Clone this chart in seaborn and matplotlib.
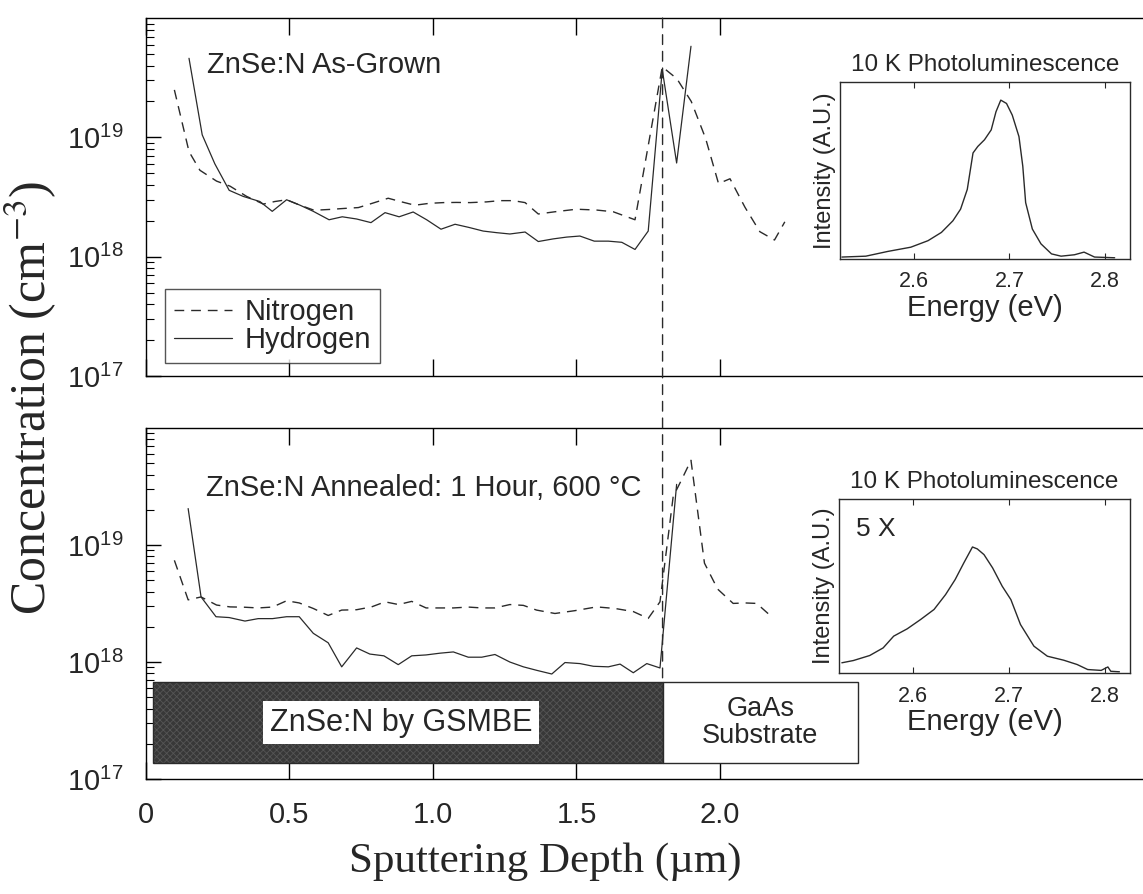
import numpy as np
import pandas as pd
import matplotlib
matplotlib.use("Agg")
import matplotlib.pyplot as plt
import seaborn as sns
from matplotlib.patches import Rectangle, ConnectionPatch
from matplotlib.ticker import FixedLocator, LogLocator, NullFormatter, FixedFormatter

# ---------------- data ----------------
top_h_depth = [0.150, 0.196, 0.240, 0.290, 0.339, 0.397, 0.440, 0.490, 0.537, 0.583,
               0.638, 0.684, 0.734, 0.784, 0.833, 0.882, 0.931, 0.978, 1.028, 1.077,
               1.125, 1.175, 1.222, 1.268, 1.321, 1.367, 1.419, 1.466, 1.512, 1.562,
               1.611, 1.658, 1.704, 1.750, 1.799, 1.849, 1.899]
top_h_conc = [46, 10.5, 6.0, 3.6, 3.2, 2.9, 2.4, 3.0, 2.7, 2.4,
              2.04, 2.16, 2.07, 1.93, 2.34, 2.16, 2.37, 2.04, 1.70, 1.87,
              1.76, 1.64, 1.59, 1.55, 1.61, 1.34, 1.41, 1.46, 1.49, 1.35,
              1.35, 1.32, 1.15, 1.64, 37, 6.1, 58]  # x 1e18 cm^-3

top_n_depth = [0.099, 0.150, 0.188, 0.246, 0.293, 0.351, 0.409, 0.449, 0.490, 0.537,
               0.586, 0.641, 0.693, 0.740, 0.788, 0.844, 0.891, 0.937, 0.987, 1.036,
               1.082, 1.130, 1.187, 1.233, 1.280, 1.321, 1.367, 1.425, 1.500, 1.570,
               1.628, 1.704, 1.799, 1.850, 1.900, 1.950, 1.995, 2.035, 2.087, 2.139,
               2.190, 2.226]
top_n_conc = [25, 7.6, 5.3, 4.3, 3.9, 3.2, 2.76, 2.9, 3.0, 2.7,
              2.45, 2.49, 2.54, 2.58, 2.8, 3.09, 2.88, 2.7, 2.8, 2.84,
              2.85, 2.84, 2.88, 2.95, 2.95, 2.84, 2.28, 2.38, 2.5, 2.46,
              2.38, 2.04, 39, 31, 20, 9.8, 4.1, 4.5, 2.6, 1.62,
              1.38, 1.96]

bot_h_depth = [0.147, 0.192, 0.244, 0.290, 0.345, 0.391, 0.441, 0.490, 0.534, 0.583,
               0.635, 0.682, 0.734, 0.780, 0.829, 0.879, 0.926, 0.976, 1.024, 1.071,
               1.123, 1.170, 1.216, 1.268, 1.315, 1.361, 1.414, 1.460, 1.512, 1.559,
               1.611, 1.652, 1.698, 1.745, 1.791, 1.849]
bot_h_conc = [20.5, 3.6, 2.44, 2.4, 2.24, 2.35, 2.35, 2.44, 2.44, 1.76,
              1.46, 0.91, 1.32, 1.17, 1.13, 0.95, 1.13, 1.15, 1.19, 1.22,
              1.10, 1.10, 1.16, 1.0, 0.91, 0.85, 0.79, 0.99, 0.97, 0.92,
              0.91, 0.96, 0.81, 0.97, 0.89, 33]

bot_n_depth = [0.099, 0.147, 0.192, 0.246, 0.293, 0.345, 0.391, 0.441, 0.490, 0.534,
               0.583, 0.635, 0.682, 0.734, 0.786, 0.833, 0.880, 0.926, 0.976, 1.024,
               1.071, 1.123, 1.170, 1.216, 1.268, 1.315, 1.361, 1.425, 1.495, 1.570,
               1.634, 1.698, 1.750, 1.791, 1.837, 1.866, 1.899, 1.946, 1.992, 2.046,
               2.087, 2.128, 2.180]
bot_n_conc = [7.4, 3.4, 3.6, 3.07, 2.96, 2.94, 2.9, 2.95, 3.34, 3.2,
              2.87, 2.5, 2.78, 2.8, 2.96, 3.27, 3.1, 3.3, 2.9, 2.9,
              2.9, 2.95, 2.9, 2.9, 3.1, 3.05, 2.78, 2.6, 2.75, 2.96,
              2.87, 2.7, 2.36, 3.27, 26, 36, 53, 7.0, 4.2, 3.17,
              3.2, 3.17, 2.44]

pl1_energy = [2.525, 2.550, 2.573, 2.597, 2.615, 2.629, 2.641, 2.649, 2.656, 2.662,
              2.667, 2.674, 2.681, 2.686, 2.691, 2.697, 2.703, 2.710, 2.714, 2.717,
              2.724, 2.733, 2.744, 2.754, 2.768, 2.778, 2.789, 2.810]
pl1_int = [0.006, 0.011, 0.038, 0.062, 0.099, 0.146, 0.212, 0.278, 0.39, 0.597,
           0.634, 0.672, 0.728, 0.831, 0.897, 0.878, 0.812, 0.690, 0.522, 0.315,
           0.165, 0.081, 0.024, 0.011, 0.019, 0.034, 0.006, 0.002]

pl2_energy = [2.526, 2.538, 2.555, 2.569, 2.580, 2.594, 2.608, 2.622, 2.634, 2.644,
              2.653, 2.662, 2.667, 2.674, 2.683, 2.693, 2.702, 2.712, 2.726, 2.740,
              2.757, 2.771, 2.782, 2.796, 2.803, 2.806, 2.815]
pl2_int = [0.054, 0.067, 0.096, 0.140, 0.208, 0.25, 0.304, 0.362, 0.448, 0.535,
           0.631, 0.723, 0.712, 0.679, 0.602, 0.496, 0.419, 0.275, 0.150, 0.092,
           0.069, 0.044, 0.015, 0.010, 0.030, 0.005, 0.002]

x_ticks = [0, 0.5, 1.0, 1.5, 2.0]
x_ticklabels = ["0", "0.5", "1.0", "1.5", "2.0"]
y_major = [1e17, 1e18, 1e19]
y_ticklabels = ["$10^{17}$", "$10^{18}$", "$10^{19}$"]
pl_ticks = [2.6, 2.7, 2.8]
interface_depth = 1.8
layer_edges = [0.024, 1.8, 2.48]
layer_bottom, layer_top = 1.37e17, 6.7e17
CONC_SCALE = 1e18

# ---------------- style ----------------
sns.set_style("white")
plt.rcParams["font.family"] = ["Liberation Sans", "DejaVu Sans"]
plt.rcParams["mathtext.fontset"] = "custom"
plt.rcParams["mathtext.rm"] = "Liberation Sans"
plt.rcParams["mathtext.it"] = "Liberation Sans:italic"
plt.rcParams["mathtext.bf"] = "Liberation Sans:bold"
plt.rcParams["hatch.linewidth"] = 0.6

INK = "#2a2a2a"
DASH = (0, (7, 5))

fig = plt.figure(figsize=(11.43, 8.94), dpi=100)
ax_top = fig.add_axes([0.1277, 0.5794, 0.8723, 0.4004])
ax_bot = fig.add_axes([0.1277, 0.1286, 0.8723, 0.3926])


def draw_profile(ax, nd, nc, hd, hc):
    dfn = pd.DataFrame({"depth": nd, "conc": np.array(nc) * CONC_SCALE})
    dfh = pd.DataFrame({"depth": hd, "conc": np.array(hc) * CONC_SCALE})
    sns.lineplot(data=dfn, x="depth", y="conc", ax=ax, color=INK, lw=1.0,
                 linestyle=DASH, estimator=None, sort=False, label="Nitrogen")
    sns.lineplot(data=dfh, x="depth", y="conc", ax=ax, color=INK, lw=0.9,
                 estimator=None, sort=False, label="Hydrogen")
    ax.set_yscale("log")
    ax.set_ylim(1e17, 1e20)
    ax.set_xlim(0, 3.474)
    ax.set_xlabel("")
    ax.set_ylabel("")
    for s in ["top", "left", "bottom"]:
        ax.spines[s].set_visible(True)
        ax.spines[s].set_color("black")
        ax.spines[s].set_linewidth(1.0)
    ax.spines["right"].set_visible(False)
    ax.xaxis.set_major_locator(FixedLocator(x_ticks))
    ax.xaxis.set_major_formatter(FixedFormatter(x_ticklabels))
    ax.yaxis.set_major_locator(FixedLocator(y_major))
    ax.yaxis.set_major_formatter(FixedFormatter(y_ticklabels))
    ax.yaxis.set_minor_locator(LogLocator(base=10, subs=np.arange(2, 10)))
    ax.yaxis.set_minor_formatter(NullFormatter())
    ax.tick_params(axis="x", which="major", direction="in", top=True, bottom=True,
                   length=12, width=1, labelsize=21, pad=16, color="black")
    ax.tick_params(axis="y", which="major", direction="in", left=True, right=False,
                   length=11, width=1, labelsize=21, pad=16, color="black")
    ax.tick_params(axis="y", which="minor", direction="in", left=True, right=False,
                   length=6, width=0.8, color="black")


draw_profile(ax_top, top_n_depth, top_n_conc, top_h_depth, top_h_conc)
draw_profile(ax_bot, bot_n_depth, bot_n_conc, bot_h_depth, bot_h_conc)
ax_top.tick_params(axis="x", labelbottom=False)
ax_bot.legend_.remove()

leg = ax_top.legend(loc="lower left", bbox_to_anchor=(0.019, 0.036), borderaxespad=0,
                    fontsize=21, handlelength=2.0, handletextpad=0.45, labelspacing=0.02,
                    frameon=True, fancybox=False, edgecolor=INK, borderpad=0.3)
leg.get_frame().set_linewidth(1.0)

ax_top.text(0.2125, 4.05e19, "ZnSe:N As-Grown", fontsize=21, va="center", ha="left")
ax_bot.text(0.209, 3.1e19, "ZnSe:N Annealed: 1 Hour, 600 \u00b0C", fontsize=21,
            va="center", ha="left")

# layer boxes
ax_bot.add_patch(Rectangle((layer_edges[0], layer_bottom), layer_edges[1] - layer_edges[0],
                           layer_top - layer_bottom, facecolor="#383838", edgecolor="#555555",
                           hatch="xxxxx", lw=0, zorder=3))
ax_bot.add_patch(Rectangle((layer_edges[0], layer_bottom), layer_edges[1] - layer_edges[0],
                           layer_top - layer_bottom, facecolor="none", edgecolor=INK,
                           lw=1.0, zorder=3))
ax_bot.add_patch(Rectangle((layer_edges[1], layer_bottom), layer_edges[2] - layer_edges[1],
                           layer_top - layer_bottom, facecolor="white", edgecolor=INK,
                           lw=1.0, zorder=3))
ax_bot.text(0.889, np.sqrt(layer_bottom * layer_top), "ZnSe:N by GSMBE", fontsize=22,
            ha="center", va="center", zorder=5,
            bbox=dict(boxstyle="square,pad=0.22", facecolor="white", edgecolor="none"))
ax_bot.text((layer_edges[1] + layer_edges[2]) / 2, np.sqrt(layer_bottom * layer_top),
            "GaAs\nSubstrate", fontsize=19.5, ha="center", va="center", linespacing=1.05,
            zorder=5)

# interface line through both panels
con = ConnectionPatch(xyA=(interface_depth, 1e20), coordsA=ax_top.transData,
                      xyB=(interface_depth, layer_top), coordsB=ax_bot.transData,
                      color=INK, lw=1.0, linestyle=(0, (7, 5)), zorder=6)
fig.add_artist(con)

# insets
def draw_inset(rect, e, inten, tag=None):
    ax = fig.add_axes(rect)
    df = pd.DataFrame({"energy": e, "intensity": inten})
    sns.lineplot(data=df, x="energy", y="intensity", ax=ax, color=INK, lw=1.0,
                 estimator=None, sort=False)
    ax.set_xlim(2.523, 2.826)
    ax.set_ylim(-0.005, 1.0)
    ax.set_yticks([])
    ax.set_xticks(pl_ticks)
    ax.set_xticklabels([f"{t:.1f}" for t in pl_ticks])
    ax.tick_params(axis="x", direction="in", top=True, bottom=True, length=4, width=0.8,
                   labelsize=15.5, pad=9)
    for s in ax.spines.values():
        s.set_visible(True)
        s.set_color(INK)
        s.set_linewidth(1.0)
    ax.set_xlabel("Energy (eV)", fontsize=21, labelpad=1)
    ax.set_ylabel("Intensity (A.U.)", fontsize=17, labelpad=3)
    ax.set_title("10 K Photoluminescence", fontsize=17.5, pad=8)
    if tag:
        ax.text(0.06, 0.83, tag, transform=ax.transAxes, fontsize=19, ha="left", va="center")
    return ax


draw_inset([0.7349, 0.7103, 0.2537, 0.198], pl1_energy, pl1_int)
draw_inset([0.7340, 0.2472, 0.2546, 0.1946], pl2_energy, pl2_int, tag="5 X")

fig.text(0.027, 0.555, "Concentration (cm$^{-3}$)", rotation=90, ha="center", va="center",
         fontsize=36, family=["Liberation Serif", "DejaVu Serif"], math_fontfamily="stix")
fig.text(0.477, 0.036, "Sputtering Depth (\u00b5m)", ha="center", va="center",
         fontsize=31, family=["Liberation Serif", "DejaVu Serif"])

fig.savefig("out.png", dpi=100)
